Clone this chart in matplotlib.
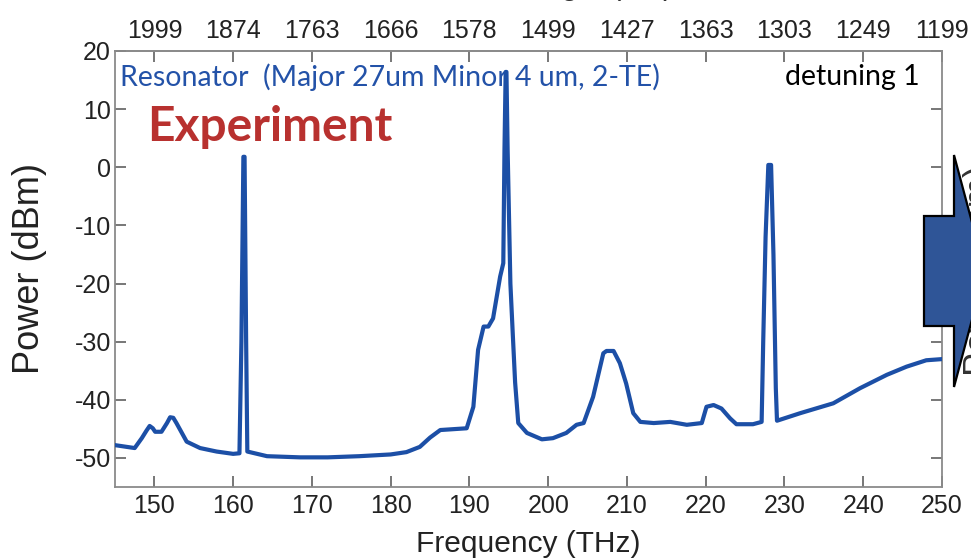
import matplotlib
matplotlib.use("Agg")
import matplotlib.pyplot as plt
from matplotlib.patches import Polygon
import numpy as np

plt.rcParams["axes.unicode_minus"] = False

# measured transmission spectrum (frequency in THz, power in dBm)
freq = [145.0, 147.5, 148.4, 149.0, 149.4, 149.8, 150.1, 150.9, 151.6, 152.0,
        152.4, 152.8, 154.1, 155.8,
        157.9, 160.0, 160.8, 161.05, 161.3, 161.45, 161.65, 161.8, 164.3, 168.5,
        172.0, 176.0, 180.0, 182.0, 183.7, 185.0, 186.3, 189.65, 190.5, 191.1,
        191.8, 192.4, 193.0, 193.9, 194.3, 194.45, 194.6, 194.7, 194.85, 195.2,
        195.5, 195.8, 196.2, 197.3, 199.2, 200.6, 202.3, 203.6, 204.5, 205.7,
        207.0, 207.4, 208.3, 209.1, 209.9, 210.8, 211.7, 213.4, 215.5, 217.6,
        219.5, 220.1, 221.0, 222.0, 223.1, 223.9, 226.0, 227.1, 227.3, 227.6,
        227.95, 228.3, 228.6, 228.9, 229.05, 232.0, 236.2, 239.6, 243.0, 245.5,
        248.0, 250.0]
power = [-47.8, -48.3, -46.6, -45.3, -44.5, -44.9, -45.5, -45.5, -44.0, -43.0,
         -43.1, -44.0, -47.2, -48.3,
         -48.9, -49.3, -49.2, -30.0, 1.8, 1.8, -30.0, -48.9, -49.7, -49.9,
         -49.9, -49.7, -49.4, -49.0, -48.1, -46.5, -45.2, -44.9, -41.2, -31.4,
         -27.4, -27.4, -26.0, -18.8, -16.5, 3.0, 16.4, 16.4, 3.0, -20.0,
         -28.6, -37.0, -44.0, -45.7, -46.8, -46.6, -45.7, -44.3, -44.0, -39.5,
         -32.0, -31.6, -31.6, -33.7, -37.2, -42.3, -43.8, -44.0, -43.8, -44.3,
         -44.0, -41.2, -40.9, -41.5, -43.2, -44.2, -44.2, -43.8, -30.0, -12.0,
         0.4, 0.4, -15.0, -38.0, -43.6, -42.3, -40.6, -38.0, -35.7, -34.3,
         -33.2, -33.0]

freq_ticks = [150, 160, 170, 180, 190, 200, 210, 220, 230, 240, 250]
wl_labels = ["1999", "1874", "1763", "1666", "1578", "1499",
             "1427", "1363", "1303", "1249", "1199"]
power_ticks = [20, 10, 0, -10, -20, -30, -40, -50]

sans = ["Liberation Sans", "DejaVu Sans"]
label_font = ["Lato", "Open Sans", "DejaVu Sans"]
tick_col = "#222222"

W, H = 971, 560
fig = plt.figure(figsize=(W / 100, H / 100), dpi=100)
ax = fig.add_axes([115 / W, 1 - 487 / H, 827 / W, 436 / H])

ax.plot(freq, power, color="#1c4fa6", lw=3.0, solid_joinstyle="round",
        zorder=4)
ax.set_xlim(145, 250)
ax.set_ylim(-55, 20)

spine_col = "#8a8a8a"
for s in ax.spines.values():
    s.set_color(spine_col)
    s.set_linewidth(1.3)

ax.set_xticks(freq_ticks)
ax.set_yticks(power_ticks)
ax.tick_params(direction="in", length=8, width=1.2, color="#606060",
               labelsize=18, labelcolor=tick_col, right=True)
ax.tick_params(axis="x", pad=5)
ax.tick_params(axis="y", pad=3)
for lab in ax.get_xticklabels() + ax.get_yticklabels():
    lab.set_family(sans)

top = ax.secondary_xaxis("top")
top.set_xticks(freq_ticks)
top.set_xticklabels(wl_labels)
top.tick_params(direction="in", length=8, width=1.2, color="#606060",
                labelsize=18, labelcolor=tick_col, pad=6)
for lab in top.get_xticklabels():
    lab.set_family(sans)
top.spines["top"].set_color(spine_col)
top.spines["top"].set_linewidth(1.3)

ax.set_xlabel("Frequency (THz)", fontsize=21.5, family=sans, labelpad=9,
              color=tick_col)
ax.set_ylabel("Power (dBm)", fontsize=26, family=sans, labelpad=20,
              color=tick_col)

# top axis title sits just above the figure edge
fig.text(560 / W, 1 + 5 / H, "Wavelength (nm)", fontsize=21.5, family=sans,
         ha="center", va="baseline", color="#333333")

ax.text(0.006, 0.94, "Resonator  (Major 27um Minor 4 um, 2-TE)",
        transform=ax.transAxes, fontsize=20.5, family=label_font,
        color="#2352a8", ha="left", va="center", zorder=3)
ax.text(0.039, 0.826, "Experiment", transform=ax.transAxes, fontsize=34.5,
        family=label_font, weight="bold", color="#b8312f",
        ha="left", va="center")
ax.text(0.973, 0.94, "detuning 1", transform=ax.transAxes, fontsize=20.5,
        family=label_font, color="black", ha="right", va="center")

# neighbouring panel's axis title, mostly hidden by the arrow
fig.text(980 / W, 1 - 270 / H, "Power (dBm)", fontsize=26, family=sans,
         rotation=90, ha="center", va="center", color="#333333")

# block arrow pointing to the next panel (figure pixel coordinates)
arrow_px = np.array([[924, 216], [954, 216], [954, 155], [985, 271],
                     [954, 387], [954, 326], [924, 326]], dtype=float)
arrow_fig = np.column_stack([arrow_px[:, 0] / W, 1 - arrow_px[:, 1] / H])
fig.patches.append(Polygon(arrow_fig, closed=True, transform=fig.transFigure,
                           facecolor="#2f5597", edgecolor="black", lw=1.6,
                           zorder=10))

fig.savefig("out.png", dpi=100)
